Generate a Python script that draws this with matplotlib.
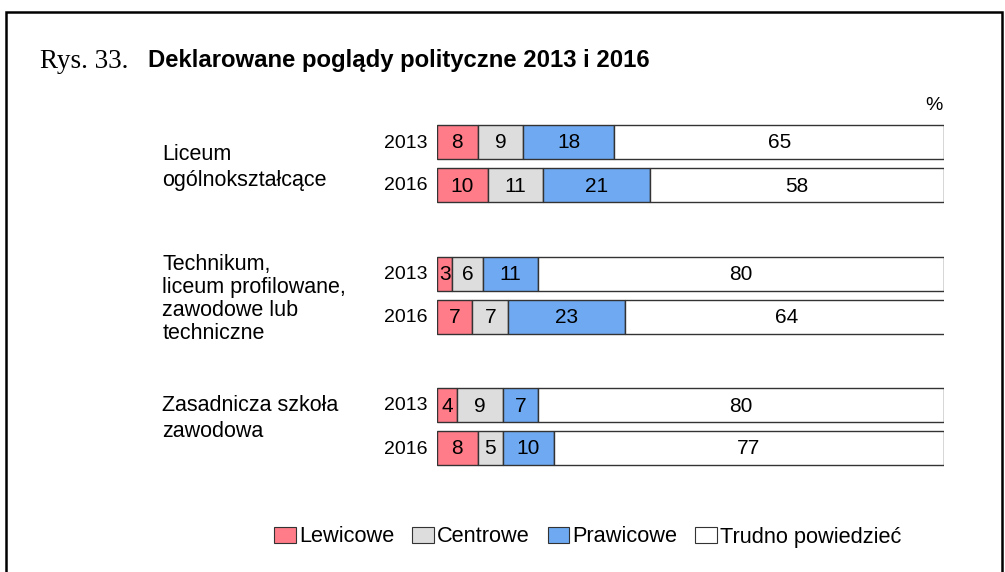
import matplotlib
matplotlib.use("Agg")
import matplotlib.pyplot as plt
from matplotlib.patches import Rectangle, Patch

plt.rcParams['font.family'] = ['Liberation Sans', 'DejaVu Sans']

groups = ["Liceum\nogólnokształcące",
          "Technikum,\nliceum profilowane,\nzawodowe lub\ntechniczne",
          "Zasadnicza szkoła\nzawodowa"]
years = ["2013", "2016"]
categories = ["Lewicowe", "Centrowe", "Prawicowe", "Trudno powiedzieć"]
colors = ["#FF7C88", "#DDDDDD", "#6EA9F2", "#FFFFFF"]

# values per group, per year: [lewicowe, centrowe, prawicowe, trudno]
lewicowe = [[8, 10], [3, 7], [4, 8]]
centrowe = [[9, 11], [6, 7], [9, 5]]
prawicowe = [[18, 21], [11, 23], [7, 10]]
trudno = [[65, 58], [80, 64], [80, 77]]
series = [lewicowe, centrowe, prawicowe, trudno]

W, H = 1005, 572
fig = plt.figure(figsize=(W / 100, H / 100), dpi=100)

# frame around the whole picture
fig.patches.append(Rectangle((6 / W, -0.05), 996 / W, 1.05 - 12 / H, transform=fig.transFigure,
                             fill=False, edgecolor="black", linewidth=1.8))

ax = fig.add_axes([437 / W, (H - 480) / H, 507 / W, 380 / H])
ax.set_xlim(0, 100)
ax.set_ylim(480, 100)
ax.axis("off")

base, group_gap, year_gap, bar_h = 142, 131.5, 43, 34
label_shift = [4, 4, -8]
label_spacing = [1.3, 1.12, 1.3]

for g, gname in enumerate(groups):
    for yi, yr in enumerate(years):
        y = base + g * group_gap + yi * year_gap
        left = 0
        for s, col in zip(series, colors):
            v = s[g][yi]
            ax.barh(y, v, left=left, height=bar_h, color=col, edgecolor="#333333", linewidth=1)
            ax.text(left + v / 2, y + 1, str(v), ha="center", va="center", fontsize=15)
            left += v
        ax.text(-1.8, y + 1, yr, ha="right", va="center", fontsize=14)
    ymid = base + g * group_gap + year_gap / 2 + label_shift[g]
    ax.text(-54.2, ymid, gname, ha="left", va="center", fontsize=15.5,
            linespacing=label_spacing[g])

ax.text(98, 106, "%", ha="center", va="center", fontsize=14)

fig.text(40 / W, 1 - 61 / H, "Rys. 33.", family=["Liberation Serif"], fontsize=19.5, va="center")
fig.text(148 / W, 1 - 61 / H, "Deklarowane poglądy polityczne 2013 i 2016",
         fontsize=17.2, fontweight="bold", va="center")

handles = [Patch(facecolor=c, edgecolor="#333333", linewidth=0.8) for c in colors]
fig.legend(handles, categories, loc="center", bbox_to_anchor=(588 / W, 1 - 537 / H),
           ncol=4, frameon=False, fontsize=15.7, handlelength=1.0, handleheight=0.8,
           handletextpad=0.15, columnspacing=0.8)

fig.savefig("out.png", dpi=100)
